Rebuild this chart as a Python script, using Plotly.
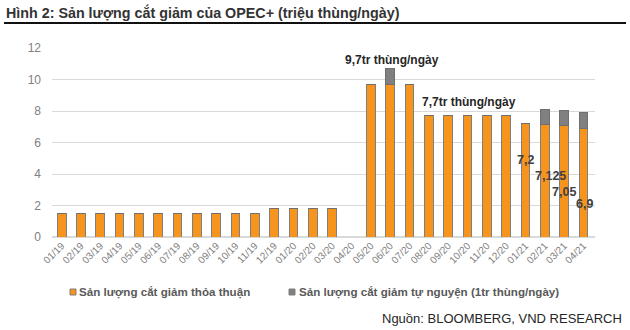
import plotly.graph_objects as go

categories = ["01/19", "02/19", "03/19", "04/19", "05/19", "06/19", "07/19", "08/19",
              "09/19", "10/19", "11/19", "12/19", "01/20", "02/20", "03/20", "04/20",
              "05/20", "06/20", "07/20", "08/20", "09/20", "10/20", "11/20", "12/20",
              "01/21", "02/21", "03/21", "04/21"]
agreed_cut = [1.5, 1.5, 1.5, 1.5, 1.5, 1.5, 1.5, 1.5, 1.5, 1.5, 1.5, 1.8, 1.8, 1.8, 1.8, 0,
              9.7, 9.7, 9.7, 7.7, 7.7, 7.7, 7.7, 7.7, 7.2, 7.125, 7.05, 6.9]
voluntary_cut = [0, 0, 0, 0, 0, 0, 0, 0, 0, 0, 0, 0, 0, 0, 0, 0,
                 0, 1.0, 0, 0, 0, 0, 0, 0, 0, 1.0, 1.0, 1.0]
labelled_months = ["01/21", "02/21", "03/21", "04/21"]
y_ticks = [0, 2, 4, 6, 8, 10, 12]

ORANGE = "#F7941D"
GREY = "#808080"
FONT = "Liberation Sans, Arial, sans-serif"

fig = go.Figure()
fig.add_trace(go.Bar(x=categories, y=agreed_cut, name="Sản lượng cắt giảm thỏa thuận",
                     marker=dict(color=ORANGE, line=dict(color="#7f7f7f", width=1))))
fig.add_trace(go.Bar(x=categories, y=voluntary_cut, name="Sản lượng cắt giảm tự nguyện (1tr thùng/ngày)",
                     marker=dict(color=GREY, line=dict(color="#6f6f6f", width=1))))

L, R, T, B = 52, 35, 48, 93
W, H = 630, 330
pw = W - L - R

def px_to_paper_x(px):
    return (px - L) / pw

def py_to_paper_y(py):
    return (H - B - py) / (H - T - B)

annotations = []
# value labels on the last bars
label_y = [4.9, 3.9, 2.86, 2.1]
label_shift = [0, 6, 0, 1]
for m, ly, sh in zip(labelled_months, label_y, label_shift):
    v = agreed_cut[categories.index(m)]
    txt = ("%g" % v).replace(".", ",")
    annotations.append(dict(x=m, y=ly, text=txt, showarrow=False, xshift=sh,
                            font=dict(family=FONT, size=12.5, color="#404040", weight="bold")))

annotations.append(dict(x="06/20", y=11.25, text=("%g" % agreed_cut[16]).replace(".", ",") + "tr thùng/ngày",
                        showarrow=False, xshift=2,
                        font=dict(family=FONT, size=12, color="#262626", weight="bold")))
annotations.append(dict(x="10/20", y=8.57, text=("%g" % agreed_cut[19]).replace(".", ",") + "tr thùng/ngày",
                        showarrow=False, xshift=1,
                        font=dict(family=FONT, size=12, color="#262626", weight="bold")))

# title
annotations.append(dict(xref="paper", yref="paper", x=px_to_paper_x(4), y=py_to_paper_y(12),
                        xanchor="left", yanchor="middle", showarrow=False,
                        text="Hình 2: Sản lượng cắt giảm của OPEC+ (triệu thùng/ngày)",
                        font=dict(family=FONT, size=14.3, color="#333333", weight="bold")))
# legend text
annotations.append(dict(xref="paper", yref="paper", x=px_to_paper_x(77), y=py_to_paper_y(292),
                        xanchor="left", yanchor="middle", showarrow=False,
                        text="Sản lượng cắt giảm thỏa thuận",
                        font=dict(family=FONT, size=11.6, color="#595959", weight="bold")))
annotations.append(dict(xref="paper", yref="paper", x=px_to_paper_x(297), y=py_to_paper_y(292),
                        xanchor="left", yanchor="middle", showarrow=False,
                        text="Sản lượng cắt giảm tự nguyện (1tr thùng/ngày)",
                        font=dict(family=FONT, size=11.6, color="#595959", weight="bold")))
# source
annotations.append(dict(xref="paper", yref="paper", x=px_to_paper_x(624), y=py_to_paper_y(318),
                        xanchor="right", yanchor="middle", showarrow=False,
                        text="Nguồn: BLOOMBERG, VND RESEARCH",
                        font=dict(family=FONT, size=13, color="#262626")))

shapes = [
    dict(type="line", xref="paper", yref="paper", x0=px_to_paper_x(4), x1=px_to_paper_x(626),
         y0=py_to_paper_y(23), y1=py_to_paper_y(23), line=dict(color="#111111", width=2)),
    dict(type="rect", xref="paper", yref="paper", x0=px_to_paper_x(70), x1=px_to_paper_x(76),
         y0=py_to_paper_y(295), y1=py_to_paper_y(289), fillcolor=ORANGE, line=dict(color="#7f7f7f", width=1)),
    dict(type="rect", xref="paper", yref="paper", x0=px_to_paper_x(289), x1=px_to_paper_x(295),
         y0=py_to_paper_y(295), y1=py_to_paper_y(289), fillcolor=GREY, line=dict(color="#7f7f7f", width=1)),
]

fig.update_layout(
    barmode="stack", bargap=0.55, width=W, height=H,
    margin=dict(l=L, r=R, t=T, b=B), showlegend=False,
    plot_bgcolor="white", paper_bgcolor="white",
    font=dict(family=FONT, color=GREY),
    annotations=annotations, shapes=shapes,
)
fig.update_xaxes(type="category", tickangle=-45, tickfont=dict(size=10, color=GREY),
                 showgrid=False, ticks="", showline=False, zeroline=False)
fig.update_yaxes(range=[0, 12], tickvals=y_ticks, tickfont=dict(size=12, color=GREY),
                 showgrid=True, gridcolor="#d9d9d9", gridwidth=1, zeroline=True,
                 zerolinecolor="#d9d9d9", ticks="", ticklabelstandoff=10)

fig.write_html("out.html")
